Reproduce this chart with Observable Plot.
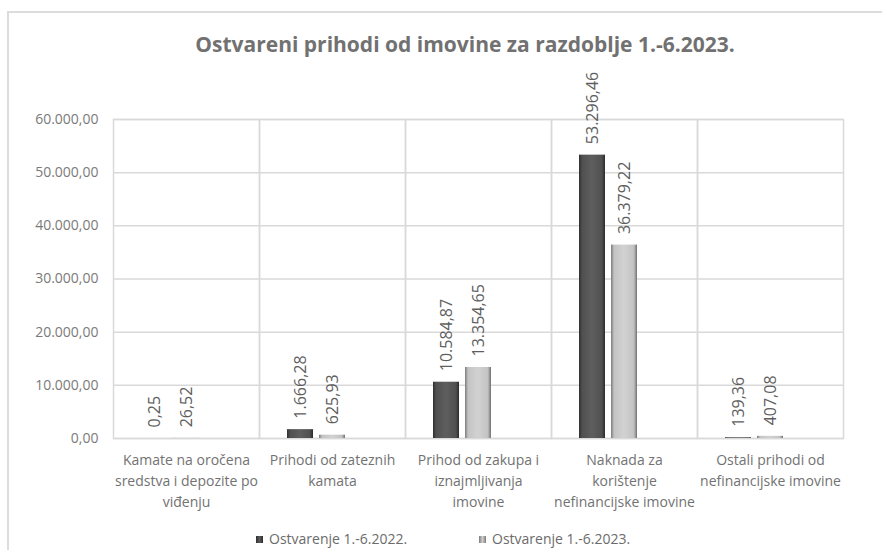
<!DOCTYPE html>
<html>
<head>
<meta charset="utf-8">
<script src="https://cdn.jsdelivr.net/npm/d3@7"></script>
<script src="https://cdn.jsdelivr.net/npm/@observablehq/plot@0.6"></script>
<style>
  html, body { margin: 0; padding: 0; background: #fff; }
  #wrap { position: relative; width: 882px; height: 550px; overflow: hidden; font-family: "Open Sans", sans-serif; }
  #border { position: absolute; left: 7px; top: 11px; width: 1000px; height: 700px; border: 2px solid #dcdcdc; box-sizing: border-box; }
  #title { position: absolute; left: 0; width: 930px; top: 34px; text-align: center; font-size: 21px; font-weight: bold; color: #717171; line-height: 1; white-space: nowrap; }
  #chart { position: absolute; left: 0; top: 0; }
  .leg { position: absolute; top: 532px; font-size: 14px; line-height: 1; color: #6b6b6b; white-space: nowrap; }
  .sw { display: inline-block; width: 7px; height: 7px; margin-right: 6px; vertical-align: 1px; }
</style>
</head>
<body>
<div id="wrap">
  <div id="border"></div>
  <div id="title">Ostvareni prihodi od imovine za razdoblje 1.-6.2023.</div>
  <div id="chart"></div>
  <div class="leg" style="left:256px"><span class="sw" style="background:linear-gradient(90deg,#2e2e2e,#5a5a5a,#2e2e2e)"></span>Ostvarenje 1.-6.2022.</div>
  <div class="leg" style="left:479px"><span class="sw" style="background:linear-gradient(90deg,#7a7a7a,#cfcfcf,#7a7a7a)"></span>Ostvarenje 1.-6.2023.</div>
</div>
<script>
const categories = [
  "Kamate na oročena sredstva i depozite po viđenju",
  "Prihodi od zateznih kamata",
  "Prihod od zakupa i iznajmljivanja imovine",
  "Naknada za korištenje nefinancijske imovine",
  "Ostali prihodi od nefinancijske imovine"
];
const categoryLabels = [
  "Kamate na oročena\nsredstva i depozite po\nviđenju",
  "Prihodi od zateznih\nkamata",
  "Prihod od zakupa i\niznajmljivanja\nimovine",
  "Naknada za\nkorištenje\nnefinancijske imovine",
  "Ostali prihodi od\nnefinancijske imovine"
];
const series = ["Ostvarenje 1.-6.2022.", "Ostvarenje 1.-6.2023."];
const values2022 = [0.25, 1666.28, 10584.87, 53296.46, 139.36];
const values2023 = [26.52, 625.93, 13354.65, 36379.22, 407.08];
const yTicks = [0, 10000, 20000, 30000, 40000, 50000, 60000];

const hr = d3.formatLocale({decimal: ",", thousands: ".", grouping: [3], currency: ["", ""]});
const fmt = hr.format(",.2f");

const data = categories.flatMap((c, i) => [
  {cat: c, series: series[0], value: values2022[i]},
  {cat: c, series: series[1], value: values2023[i]}
]);
const labelOf = new Map(categories.map((c, i) => [c, categoryLabels[i]]));

const svg = Plot.plot({
  width: 882,
  height: 520,
  marginLeft: 113,
  marginRight: 39,
  marginTop: 119,
  marginBottom: 82,
  style: {fontFamily: "'Open Sans', sans-serif", fontSize: "14px", color: "#6e6e6e", background: "transparent"},
  fx: {domain: categories, padding: 0},
  x: {domain: [...series, "__empty"], paddingInner: 0.1875, paddingOuter: 0.875, axis: null},
  y: {domain: [0, 60000]},
  color: {domain: series, range: ["url(#g2022)", "url(#g2023)"]},
  marks: [
    Plot.gridY(yTicks, {stroke: "#d9d9d9", strokeOpacity: 1, strokeWidth: 1.5}),
    Plot.frame({stroke: "#d9d9d9", strokeWidth: 1.5}),
    Plot.barY(data, {fx: "cat", x: "series", y: "value", fill: "series"}),
    Plot.text(data, {fx: "cat", x: "series", y: "value", text: d => fmt(d.value), rotate: -90, textAnchor: "start", dy: -11, fontSize: 16, fill: "#5e5e5e"}),
    Plot.axisY(yTicks, {tickFormat: fmt, tickSize: 0, tickPadding: 15, fontSize: 14, fill: "#7a7a7a", label: null}),
    Plot.axisFx({anchor: "bottom", tickFormat: c => labelOf.get(c), tickSize: 0, tickPadding: 12, fontSize: 14, lineHeight: 1.5, fill: "#727272", label: null})
  ]
});

const defs = d3.select(svg).insert("defs", ":first-child");
function grad(id, stops) {
  const g = defs.append("linearGradient").attr("id", id).attr("x1", "0").attr("x2", "1").attr("y1", "0").attr("y2", "0");
  stops.forEach(([o, c]) => g.append("stop").attr("offset", o).attr("stop-color", c));
}
grad("g2022", [["0", "#2f2f2f"], ["0.12", "#505050"], ["0.5", "#5e5e5e"], ["0.88", "#505050"], ["1", "#2a2a2a"]]);
grad("g2023", [["0", "#7c7c7c"], ["0.12", "#c4c4c4"], ["0.5", "#d2d2d2"], ["0.88", "#c2c2c2"], ["1", "#707070"]]);

document.getElementById("chart").appendChild(svg);
</script>
</body>
</html>
